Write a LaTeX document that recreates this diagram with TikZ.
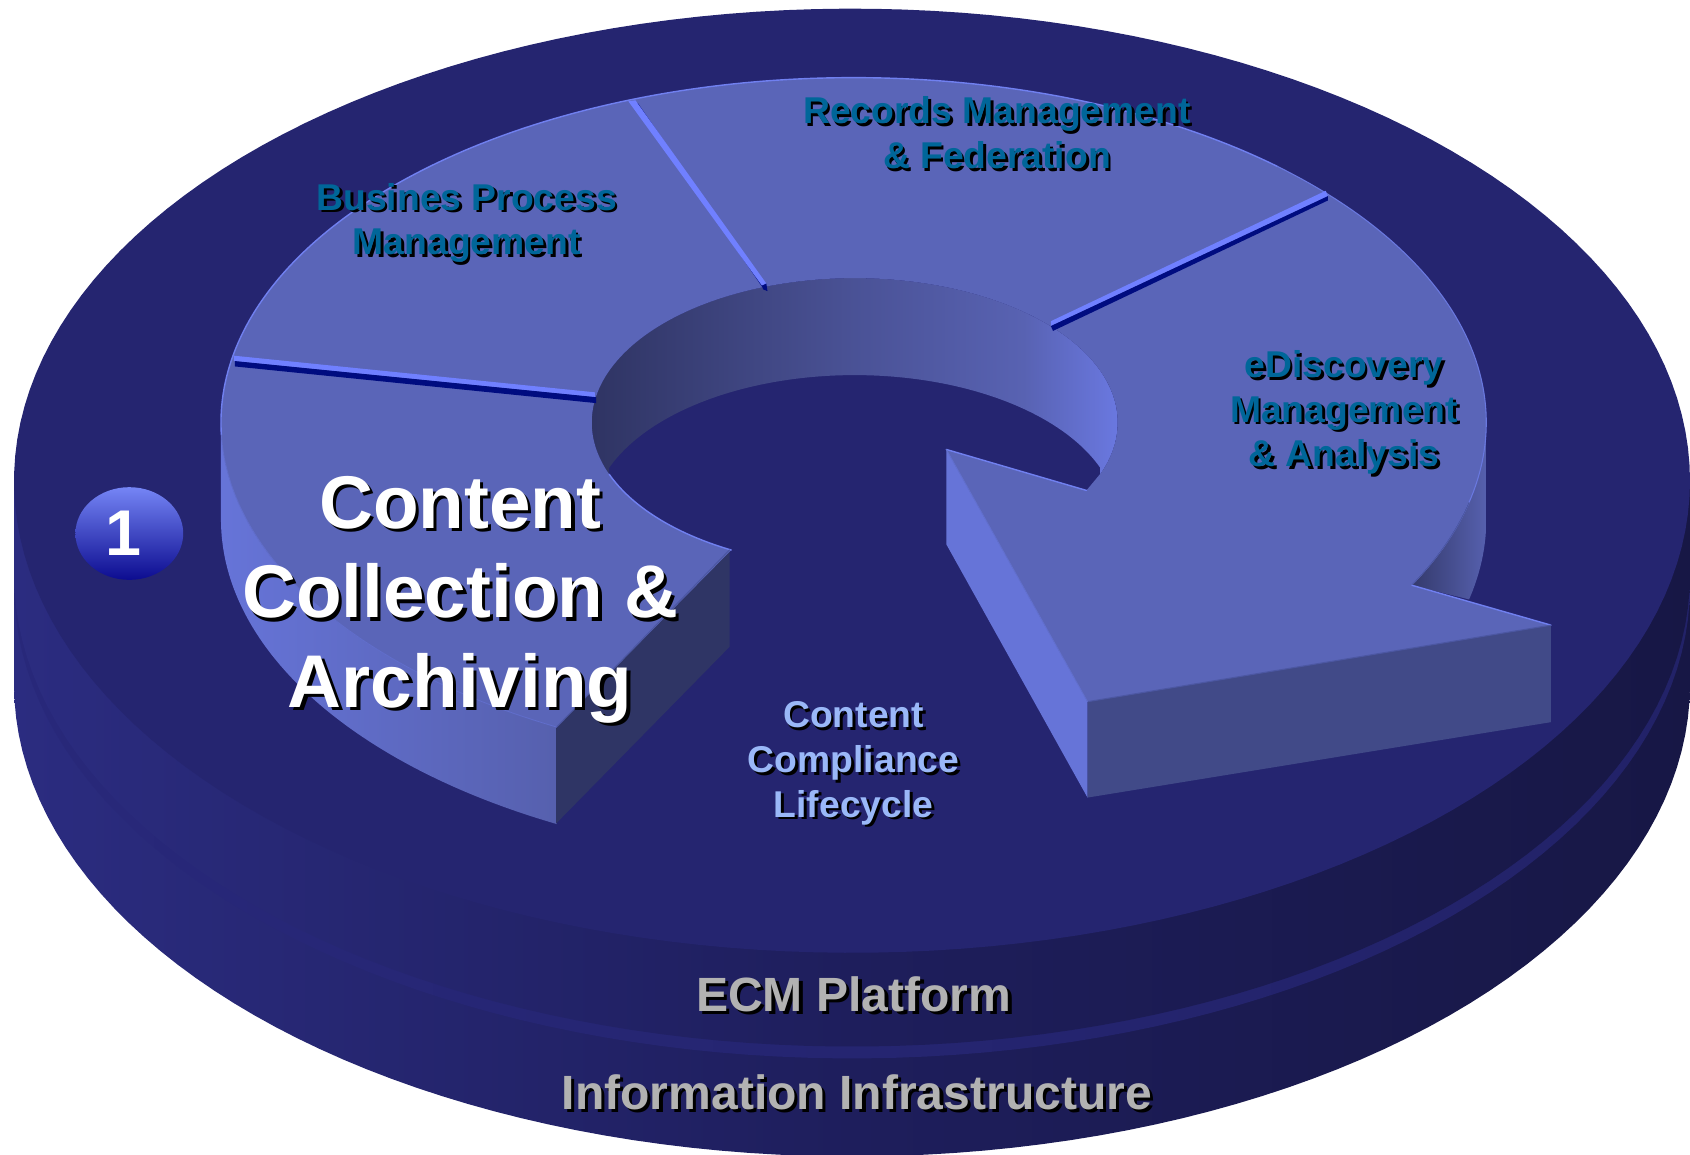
\documentclass[tikz,border=0pt]{standalone}
\usepackage{fontspec}
\usetikzlibrary{shapes.geometric}
\setmainfont{Liberation Sans}
\definecolor{disktop}{HTML}{252570}
\definecolor{sideL}{HTML}{2B2C80}
\definecolor{sideM}{HTML}{1E1E5C}
\definecolor{sideR}{HTML}{171745}
\definecolor{bandL}{HTML}{28287A}
\definecolor{bandc}{HTML}{25256C}
\definecolor{bandR}{HTML}{222268}
\definecolor{ringtop}{HTML}{5A65B8}
\definecolor{ringlight}{HTML}{6674D8}
\definecolor{ringmid}{HTML}{5660AE}
\definecolor{edgelight}{HTML}{7080F0}
\definecolor{sepdark}{HTML}{000C80}
\definecolor{sepmain}{HTML}{7080FF}
\definecolor{enddark}{HTML}{2F3565}
\definecolor{frontdark}{HTML}{414A88}
\definecolor{edgedark}{HTML}{4C57A2}
\definecolor{wall0}{HTML}{2F3463}
\definecolor{wall1}{HTML}{4A5296}
\definecolor{wall2}{HTML}{5862B2}
\definecolor{wall3}{HTML}{6A78E0}
\definecolor{rwallL}{HTML}{343A6C}
\definecolor{rwallM}{HTML}{3C4278}
\definecolor{txtblue}{HTML}{006699}
\definecolor{txtlight}{HTML}{9AB8F8}
\definecolor{txtgrey}{HTML}{B2B2B2}
\definecolor{badgeT}{HTML}{7585F5}
\definecolor{badgeB}{HTML}{0C0C90}
\pgfdeclarehorizontalshading{wallsh}{100bp}{color(0bp)=(wall0); color(25bp)=(wall0); color(50bp)=(wall1); color(66bp)=(wall2); color(75bp)=(wall3); color(100bp)=(wall3)}
\pgfdeclarehorizontalshading{disksh}{100bp}{color(0bp)=(sideL); color(25bp)=(sideL); color(50bp)=(sideM); color(75bp)=(sideR); color(100bp)=(sideR)}
\newcommand{\shtxt}[3]{\leavevmode\rlap{\kern#1\raisebox{-#1}{\textcolor{black}{#3}}}\textcolor{#2}{#3}}
\tikzset{
  arcp/.style={samples=90,variable=\t},
  lbl/.style={inner sep=0pt,outer sep=0pt,align=center,font=\fontsize{34.6}{41.5}\selectfont\bfseries},
  biglbl/.style={inner sep=0pt,outer sep=0pt,align=center,font=\fontsize{69.3}{83}\selectfont\bfseries},
  baselbl/.style={inner sep=0pt,outer sep=0pt,font=\fontsize{44.6}{50}\selectfont\bfseries},
  lightedge/.style={draw=edgelight,line width=1.3pt,line cap=round},
  darkedge/.style={draw=edgedark,line width=1pt}
}
\begin{document}
\begin{tikzpicture}[x=1pt,y=-1pt]
\useasboundingbox (0,0) rectangle (1568,1071.6);
\clip (0,0) rectangle (1568,1071.6);
% lower layer of the platform
\path[shading=disksh] (13,446) -- (13,635) -- plot[arcp,domain=180:0] ({790.5+777.5*cos(\t)},{635+438*sin(\t)}) -- (1568,446) -- cycle;
\path[left color=bandL,middle color=bandc,right color=bandR] (13,544) -- plot[arcp,domain=180:0] ({790.5+777.5*cos(\t)},{544+438*sin(\t)}) -- cycle;
\path[shading=disksh] (13,446) -- (13,533) -- plot[arcp,domain=180:0] ({790.5+777.5*cos(\t)},{533+438*sin(\t)}) -- (1568,446) -- cycle;
% top surface of the platform
\fill[disktop] plot[arcp,samples=180,domain=0:360] ({790.5+777.5*cos(\t)},{446+438*sin(\t)}) -- cycle;
% hole wall
\path[shading=wallsh] plot[arcp,domain=159:381] ({793+244*cos(\t)},{392+134*sin(\t)}) -- plot[arcp,domain=339:201] ({793+244*cos(\t)},{482+134*sin(\t)}) -- cycle;
% right outer wall
\path[left color=rwallL,middle color=rwallM,right color=ringmid] (1379,392) -- (1379,482) -- plot[arcp,domain=0:13.4] ({792+587*cos(\t)},{482+320*sin(\t)}) -- (1310,543) -- (1310,392) -- cycle;
% tail outer side
\path[left color=ringlight,right color=ringmid] plot[arcp,domain=180:118] ({792+587*cos(\t)},{392+320*sin(\t)}) -- plot[arcp,domain=118:180] ({792+587*cos(\t)},{482+320*sin(\t)}) -- cycle;
% tail end face
\fill[enddark] (677,510) -- (516,675) -- (516,764) -- (677,600) -- cycle;
% arrow side faces
\fill[ringlight] (878,417) -- (1009,651) -- (1009,740) -- (878,505) -- cycle;
\fill[frontdark] (1009,651) -- (1439,580) -- (1439,670) -- (1009,740) -- cycle;
% ring top surface
\fill[ringtop] plot[arcp,samples=200,domain=28:-242] ({792+587*cos(\t)},{392+320*sin(\t)}) -- plot[arcp,samples=160,domain=-242:20.2] ({793+244*cos(\t)},{392+134*sin(\t)}) -- (1008,455) -- (878,417) -- (1009,651) -- (1439,580) -- (1310,543) -- cycle;
% edges
\draw[lightedge] plot[arcp,samples=140,domain=178:312] ({792+587*cos(\t)},{392+320*sin(\t)});
\draw[draw=edgelight!70!ringtop,line width=1pt] plot[arcp,samples=70,domain=312:388] ({792+587*cos(\t)},{392+320*sin(\t)});
\draw[lightedge] plot[arcp,domain=159:118] ({793+244*cos(\t)},{392+134*sin(\t)});
\draw[lightedge] (1008,455) -- (878,417);
\draw[lightedge] (1310,543) -- (1439,580);
\draw[darkedge] (677,510) -- (516,675);
\draw[darkedge] (1009,651) -- (1439,580);
\draw[darkedge] plot[arcp,domain=13.4:28] ({792+587*cos(\t)},{392+320*sin(\t)});
\draw[draw=ringlight!70!ringtop,line width=.8pt] (878,417) -- (1009,651);
\draw[draw=ringlight!60!ringtop,line width=.8pt] plot[arcp,domain=178:118] ({792+587*cos(\t)},{392+320*sin(\t)});
% separators
\fill[sepmain] (217,330) -- (552,364) -- (552,368.5) -- (217,335) -- cycle;
\fill[sepdark] (218,335) -- (553,368.5) -- (553,374) -- (218,340) -- cycle;
\fill[sepdark] (589,94) -- (592,96) -- (712,270) -- (707,266) -- cycle;
\fill[sepmain] (583,94) -- (589.5,93) -- (711,263) -- (707,265) -- cycle;
\fill[sepdark] (707,265) -- (711,263) -- (712,270) -- (708,268.5) -- cycle;
\fill[sepmain] (1230,177) -- (975,298) -- (975,302.5) -- (1232,182) -- cycle;
\fill[sepdark] (1232,182) -- (975,302.5) -- (977,307) -- (1232,186) -- cycle;
% badge
\node[ellipse,inner sep=0pt,minimum width=100pt,minimum height=86pt,top color=badgeT,bottom color=badgeB,text=white,font=\fontsize{60}{60}\selectfont\bfseries] (badge) at (120,495) {\hspace*{-10pt}\raisebox{-5pt}{1}};
% labels
\node[biglbl] (collect) at (427,558) {\shtxt{3pt}{white}{Content}\\\shtxt{3pt}{white}{Collection \&}\\\shtxt{3pt}{white}{Archiving}};
\node[lbl] (bpm) at (433,208) {\shtxt{2.5pt}{txtblue}{Busines Process}\\\shtxt{2.5pt}{txtblue}{Management}};
\node[lbl] (rm) at (925,124.5) {\shtxt{2.5pt}{txtblue}{Records Management}\\\shtxt{2.5pt}{txtblue}{\& Federation}};
\node[lbl] (ediscovery) at (1247,384) {\shtxt{2.5pt}{txtblue}{eDiscovery}\\\shtxt{2.5pt}{txtblue}{Management}\\\shtxt{2.5pt}{txtblue}{\& Analysis}};
\node[lbl] (compliance) at (792,709.5) {\shtxt{2.5pt}{txtlight}{Content}\\\shtxt{2.5pt}{txtlight}{Compliance}\\\shtxt{2.5pt}{txtlight}{Lifecycle}};
\node[baselbl,anchor=base] (ecm) at (792,938) {\shtxt{3.5pt}{txtgrey}{ECM Platform}};
\node[baselbl,anchor=base] (info) at (795,1029) {\shtxt{3pt}{txtgrey}{Information Infrastructure}};
\end{tikzpicture}
\end{document}
